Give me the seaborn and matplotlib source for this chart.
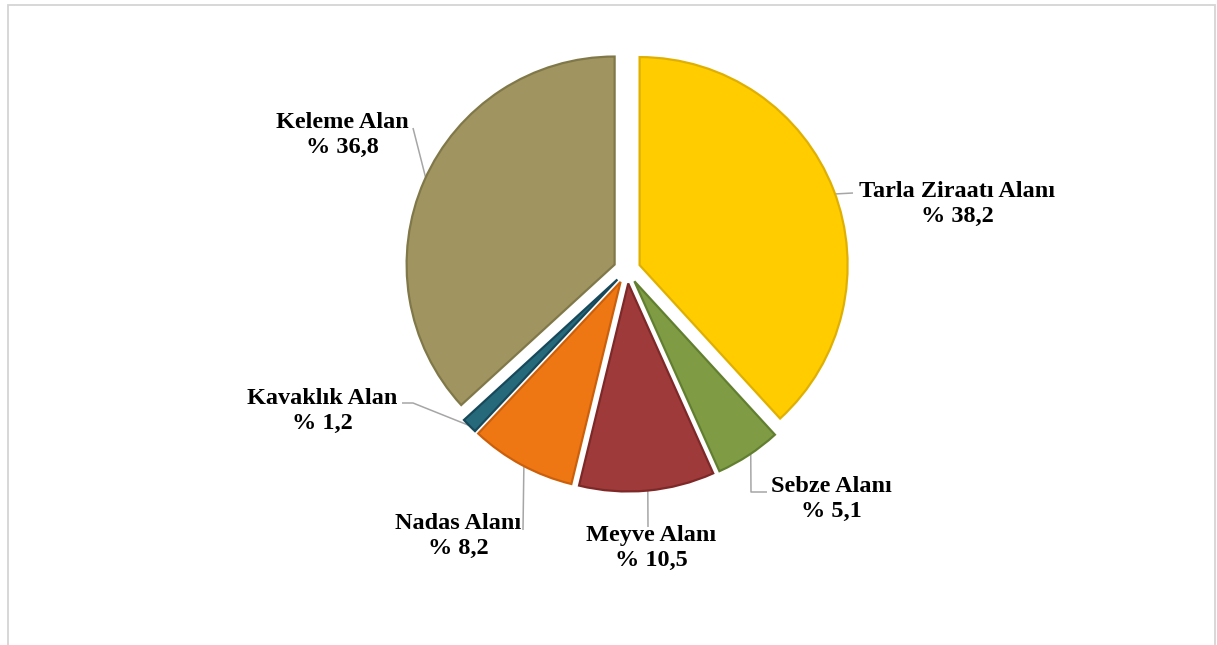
import math
import matplotlib
matplotlib.use("Agg")
import matplotlib.pyplot as plt
import matplotlib.patches as mpatches
import seaborn as sns

# Arazi kullanım dağılımı (%)
categories = ["Tarla Ziraatı Alanı", "Sebze Alanı", "Meyve Alanı",
              "Nadas Alanı", "Kavaklık Alan", "Keleme Alan"]
shares = [38.2, 5.1, 10.5, 8.2, 1.2, 36.8]
share_labels = ["% 38,2", "% 5,1", "% 10,5", "% 8,2", "% 1,2", "% 36,8"]

colors = ["#FFCC00", "#7F9C44", "#9E3A3A", "#EE7714", "#25697A", "#A09560"]
edge_colors = ["#E0B000", "#627F30", "#7E2828", "#CC600A", "#17495A", "#807848"]

W, H = 1217, 645

sns.set_theme(style="white")
plt.rcParams["font.family"] = ["Liberation Serif", "DejaVu Serif"]

fig = plt.figure(figsize=(W / 100, H / 100), dpi=100)
ax = fig.add_axes([0, 0, 1, 1])

cx, cy, r = 627, H - 270, 208
# explode is given in data units (pixels here)
wedges, _ = ax.pie(shares, center=(cx, cy), radius=r,
                   explode=[0.065 * r] * len(shares), startangle=90,
                   counterclock=False, colors=sns.color_palette(colors),
                   wedgeprops=dict(linewidth=1.6))
for w, ec in zip(wedges, edge_colors):
    w.set_edgecolor(ec)

ax.set_xlim(0, W)
ax.set_ylim(0, H)
ax.set_aspect("equal")
ax.axis("off")

# etiket yerleşimi: metin merkezi, kırılma noktaları, yay üzerindeki açı
layout = [
    dict(text=(957, 204), path=[(853, 193)], ang=20),
    dict(text=(831, 499), path=[(767, 492), (751, 492)], ang=-56),
    dict(text=(651, 548), path=[(648, 527)], ang=-84.6),
    dict(text=(458, 536), path=[(523, 530)], ang=-117.7),
    dict(text=(322, 411), path=[(402, 403), (413, 403)], ang=-135.4),
    dict(text=(342, 135), path=[(413, 128)], ang=155.3),
]

for w, cat, lab, lay in zip(wedges, categories, share_labels, layout):
    wcx, wcy = w.center
    a = math.radians(lay["ang"])
    anchor = (wcx + w.r * math.cos(a), wcy + w.r * math.sin(a))
    pts = [(x, H - y) for x, y in lay["path"]]
    xs = [p[0] for p in pts] + [anchor[0]]
    ys = [p[1] for p in pts] + [anchor[1]]
    ax.plot(xs, ys, color="#A6A6A6", lw=1.1, solid_capstyle="butt", zorder=0)
    tx, ty = lay["text"]
    ax.text(tx, H - ty, f"{cat}\n{lab}", ha="center", va="center",
            fontsize=17.5, fontweight="bold", color="black", linespacing=1.3)

border = mpatches.Rectangle((7.5, -20), 1207, H - 4.5 + 20, fill=False,
                            edgecolor="#D4D4D4", lw=1.3, clip_on=False)
ax.add_patch(border)

fig.savefig("out.png", dpi=100)
